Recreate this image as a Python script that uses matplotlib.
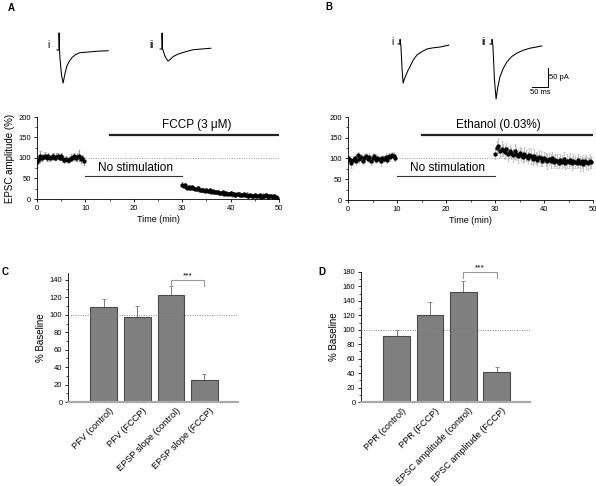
import numpy as np
import matplotlib
matplotlib.use("Agg")
import matplotlib.pyplot as plt
from matplotlib.ticker import MultipleLocator

plt.rcParams["font.family"] = ["Liberation Sans", "DejaVu Sans"]

# ---------------------------------------------------------------------------
# Data
# ---------------------------------------------------------------------------
DT = 1 / 3.0  # sampling interval of the time course (min)

a_base = [90, 98, 104, 100, 103, 106, 101, 104, 99, 102, 105, 100, 103, 104, 101,
          105, 97, 95, 98, 94, 96, 101, 99, 104, 100, 102, 106, 97, 101, 92]
a_base_err = [12, 8, 14, 7, 6, 9, 8, 7, 6, 8, 7, 6, 9, 7, 6,
              8, 7, 6, 8, 7, 6, 8, 7, 9, 8, 10, 14, 8, 7, 9]
a_post = [35, 31, 33, 28, 30, 26, 29, 27, 25, 24,
          26, 22, 23, 21, 20, 22, 19, 21, 18, 19,
          17, 16, 17, 15, 14, 16, 13, 14, 12, 13,
          14, 11, 12, 10, 11, 12, 9, 10, 11, 9,
          10, 8, 9, 7, 8, 10, 7, 8, 9, 6,
          8, 7, 9, 6, 7, 8, 5, 7, 4, 3]
a_post_err = [6, 5, 5, 4, 4, 4, 4, 4, 3, 3] * 6

b_base = [100, 96, 88, 97, 102, 94, 108, 99, 103, 95, 101, 106, 98, 104, 93,
          100, 105, 97, 102, 99, 95, 101, 98, 104, 96, 106, 103, 108, 105, 102]
b_base_err = [8, 9, 10, 8, 7, 9, 8, 10, 7, 8, 9, 8, 7, 9, 8,
              10, 8, 7, 9, 8, 12, 8, 7, 9, 8, 7, 9, 8, 10, 8]
b_post = [112, 125, 131, 118, 124, 120, 115, 122, 110, 118,
          113, 108, 117, 112, 106, 114, 109, 104, 111, 107,
          102, 109, 105, 99, 106, 101, 97, 104, 100, 95,
          102, 97, 93, 99, 95, 101, 92, 97, 94, 90,
          96, 92, 98, 89, 94, 91, 97, 88, 95, 92,
          90, 96, 89, 93, 87, 95, 91, 88, 94, 92]
b_post_err = [14, 16, 18, 15, 17, 14, 16, 15, 17, 14] * 6

# example EPSC traces: time (ms), current (pA)
a_i_t = [0, 6, 6.5, 8, 9.5, 14, 19, 22, 25, 31, 38, 47, 58, 72, 88, 103, 130, 160]
a_i_y = [0, 0, 45, 0, -25, -65, -87, -75, -62, -42, -30, -20, -12, -7, -6, -5, -3, -2]
a_ii_t = [0, 6, 6.5, 8, 9, 16, 25, 33, 41, 55, 69, 85, 103, 130, 159]
a_ii_y = [0, 0, 42, 0, -2, -20, -32, -27, -20, -14, -10, -6, -2, 0, 2]
b_i_t = [0, 6, 6.5, 8, 9, 13, 16, 20, 25, 31, 37, 47, 59, 75, 91, 110, 131, 159]
b_i_y = [0, 0, 12, 0, -3, -70, -103, -92, -82, -70, -60, -43, -29, -20, -13, -10, -8, -3]
b_ii_t = [0, 6, 6.5, 8, 9, 14, 19, 24, 31, 41, 53, 68, 84, 105, 125, 145, 162]
b_ii_y = [0, 0, 12, 0, -3, -95, -145, -115, -87, -65, -47, -33, -24, -16, -11, -8, -5]

c_labels = ["PFV (control)", "PFV (FCCP)", "EPSP slope (control)", "EPSP slope (FCCP)"]
c_vals = [109, 98, 123, 25]
c_err = [9, 12, 10, 7]
d_labels = ["PPR (control)", "PPR (FCCP)", "EPSC amplitude (control)", "EPSC amplitude (FCCP)"]
d_vals = [92, 121, 152, 41]
d_err = [8, 17, 15, 8]

# ---------------------------------------------------------------------------
W, H = 596, 486
fig = plt.figure(figsize=(W / 100, H / 100), dpi=100)


def px_axes(l, t, r, b):
    return fig.add_axes([l / W, 1 - b / H, (r - l) / W, (b - t) / H])


MS_PX, PA_PX = 0.32, 0.38  # pixels per ms / per pA


def trace_axes(x0, y0, t, y):
    # x0, y0: pixel position of the trace origin
    ax = px_axes(x0 - 5, y0 - 40, x0 + 70, y0 + 60)
    ax.set_xlim(-5 / MS_PX, 70 / MS_PX)
    ax.set_ylim(-60 / PA_PX, 40 / PA_PX)
    ax.plot(t, y, color="black", lw=0.75)
    ax.axis("off")
    return ax


def time_course(ax, base, base_err, post, post_err, err_col):
    tb = DT * np.arange(len(base))
    tp = 30 + DT * np.arange(len(post))
    ax.axhline(100, color="#999999", lw=0.7, ls=(0, (1, 1.5)), zorder=0)
    for tt, vv, ee in [(tb, base, base_err), (tp, post, post_err)]:
        ax.errorbar(tt, vv, yerr=ee, fmt="o", ms=2.1, color="black", mec="black",
                    ecolor=err_col, elinewidth=0.6, capsize=0.8, capthick=0.5)
    ax.set_xlim(0, 50)
    ax.set_ylim(0, 200)
    ax.xaxis.set_major_locator(MultipleLocator(10))
    ax.xaxis.set_minor_locator(MultipleLocator(5))
    ax.yaxis.set_major_locator(MultipleLocator(50))
    ax.yaxis.set_minor_locator(MultipleLocator(25))
    for s in ["top", "right"]:
        ax.spines[s].set_visible(False)
    for s in ["left", "bottom"]:
        ax.spines[s].set_linewidth(0.6)
    ax.tick_params(labelsize=5.5, length=2.5, width=0.6, pad=2)
    ax.tick_params(which="minor", length=1.5, width=0.5)
    ax.set_xlabel("Time (min)", fontsize=6.5, labelpad=2)
    ax.plot([10, 30], [57, 57], color="#333333", lw=0.8)
    ax.text(20.3, 62, "No stimulation", fontsize=8.5, ha="center", va="bottom")


# --- panel A ---
axA = px_axes(37, 117, 279, 199)
time_course(axA, a_base, a_base_err, a_post, a_post_err, "#888888")
axA.set_ylabel("EPSC amplitude (%)", fontsize=7, labelpad=2)
axA.plot([15, 50], [155, 155], color="#222222", lw=1.6)
axA.text(33, 166, "FCCP (3 \u03bcM)", fontsize=8.5, ha="center", va="bottom")

# --- panel B ---
axB = px_axes(348, 117, 593, 200)
time_course(axB, b_base, b_base_err, b_post, b_post_err, "#bbbbbb")
axB.plot([15, 50], [157, 157], color="#222222", lw=1.6)
axB.text(30.6, 167, "Ethanol (0.03%)", fontsize=8.5, ha="center", va="bottom")

# --- traces ---
trace_axes(57, 50, a_i_t, a_i_y)
trace_axes(160, 49, a_ii_t, a_ii_y)
trace_axes(398, 44, b_i_t, b_i_y)
trace_axes(490, 44, b_ii_t, b_ii_y)
fig.text(48 / W, 1 - 45 / H, "i", fontsize=7, ha="center", va="center")
fig.text(151 / W, 1 - 45 / H, "ii", fontsize=7, ha="center", va="center")
fig.text(392 / W, 1 - 42 / H, "i", fontsize=7, ha="center", va="center")
fig.text(483 / W, 1 - 42 / H, "ii", fontsize=7, ha="center", va="center")

# scale bar: 50 ms x 50 pA
axS = trace_axes(532, 87, [], [])
axS.plot([0, 50, 50], [0, 0, 50], color="black", lw=0.7)
axS.text(53, 25, "50 pA", fontsize=5.5, va="center", ha="left")
axS.text(25, -6, "50 ms", fontsize=5.5, va="top", ha="center")


# --- bar panels ---
def bar_panel(ax, labels, vals, err, ymax, bracket_y, bracket_drop):
    x = np.arange(len(vals))
    ax.bar(x, vals, 0.8, color="#7f7f7f", edgecolor="#4a4a4a", lw=0.8, zorder=2)
    ax.errorbar(x, vals, yerr=[np.zeros(len(err)), err], fmt="none",
                ecolor="#777777", elinewidth=0.7, capsize=1.2, capthick=0.6, zorder=1)
    ax.axhline(100, color="#888888", lw=0.7, ls=(0, (1, 1.5)), zorder=3)
    ax.set_xlim(-1.07, 4.0)
    ax.set_ylim(0, ymax)
    ax.yaxis.set_major_locator(MultipleLocator(20))
    ax.yaxis.set_minor_locator(MultipleLocator(10))
    ax.set_xticks(x + 0.15)
    ax.set_xticklabels(labels, rotation=45, ha="right", va="top",
                       rotation_mode="anchor", fontsize=6.6)
    ax.tick_params(axis="x", length=0, pad=3)
    ax.tick_params(axis="y", labelsize=5.5, length=2.5, width=0.6, pad=1.5)
    ax.tick_params(axis="y", which="minor", length=1.5, width=0.5)
    for s in ["top", "right"]:
        ax.spines[s].set_visible(False)
    ax.spines["left"].set_linewidth(0.6)
    ax.spines["bottom"].set_linewidth(1.6)
    ax.spines["bottom"].set_color("#aaaaaa")
    ax.set_ylabel("% Baseline", fontsize=7, labelpad=3)
    ax.plot([2, 2, 3, 3], [bracket_y - bracket_drop, bracket_y, bracket_y,
                           bracket_y - bracket_drop], color="#999999", lw=0.8)
    ax.text(2.5, bracket_y + 1, "***", fontsize=6, ha="center", va="bottom")


axC = px_axes(68, 273, 238, 402)
bar_panel(axC, c_labels, c_vals, c_err, 148, 140, 7)
axD = px_axes(361, 272, 530, 402)
bar_panel(axD, d_labels, d_vals, d_err, 180, 180, 8)

for lab, x, y in [("A", 11, 8), ("B", 329, 7), ("C", 5, 272), ("D", 322, 272)]:
    fig.text(x / W, 1 - y / H, lab, fontsize=7, fontweight="bold", ha="center", va="center")

fig.savefig("out.png", dpi=100)
